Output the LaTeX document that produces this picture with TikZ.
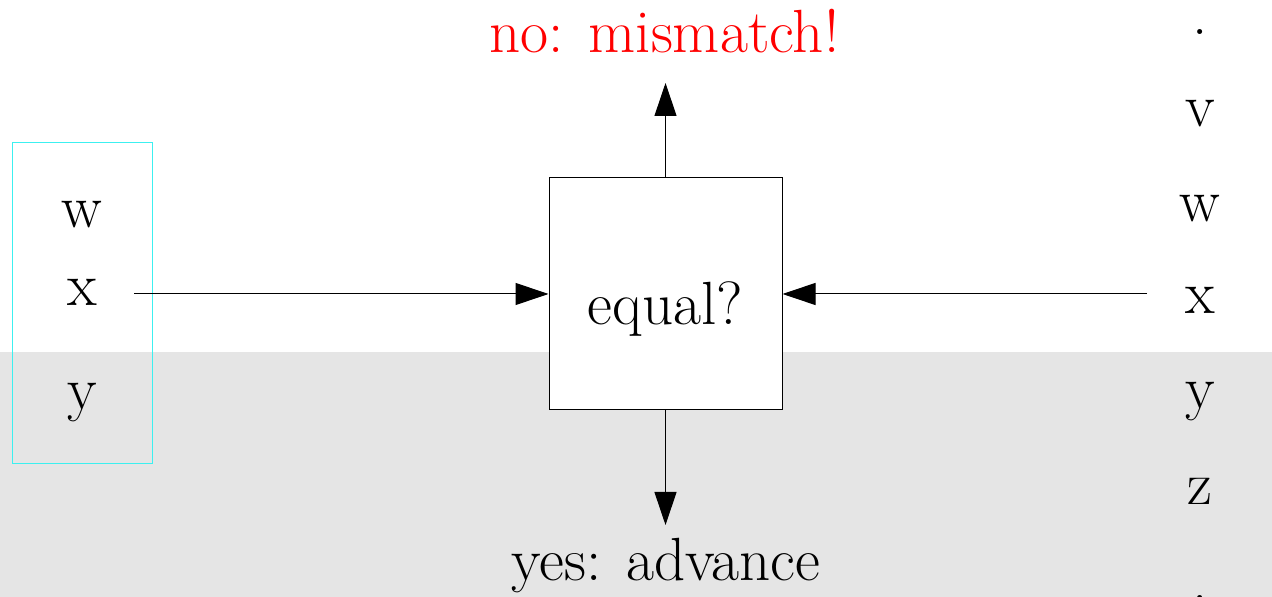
\documentclass[tikz,border=0pt]{standalone}
\usetikzlibrary{arrows.meta}
\definecolor{wincyan}{RGB}{60,240,240}
\definecolor{bandgray}{RGB}{229,229,229}

\begin{document}
\begin{tikzpicture}[
    x=0.5pt, y=-0.5pt,
    letter/.style={anchor=base, inner sep=0pt},
    cmp/.style={draw, line width=0.5pt, minimum width=116.5pt, minimum height=116pt, inner sep=0pt},
    >={Triangle[length=16.5pt, width=11pt]},
    font=\fontsize{30.5}{36}\selectfont
]
    % background
    \useasboundingbox (0,0) rectangle (1272,597);
    \fill[bandgray] (0,352) rectangle (1272,597);

    % left window
    \draw[wincyan, line width=0.5pt] (12,143) rectangle (152,464);
    \node[letter] (Lw) at (82,228) {w};
    \node[letter] (Lx) at (82,306) {x};
    \node[letter] (Ly) at (82,410) {y};
    \coordinate (Lout) at (134,294);

    % right column
    \node[letter] (R0) at (1200,35) {.};
    \node[letter] (Rv) at (1200,127) {v};
    \node[letter] (Rw) at (1200,222) {w};
    \node[letter] (Rx) at (1200,314) {x};
    \node[letter] (Ry) at (1200,409) {y};
    \node[letter] (Rz) at (1200,505) {z};
    \node[letter] (R7) at (1200,600) {.};
    \coordinate (Rout) at (1147,294);

    % compare box
    \node[cmp, fill=white] (EQ) at (665.5,294) {};
    \node[letter] (EQt) at (665.5,325) {equal?};

    % outcomes
    \node[letter, red] (No) at (664.5,53) {no: mismatch!};
    \node[letter] (Yes) at (666,580) {yes: advance};
    \coordinate (Nout) at (665.5,83);
    \coordinate (Yout) at (665.5,525);

    % 1. inputs
    \draw[->, line width=0.5pt] (Lout) -- (EQ.west);
    \draw[->, line width=0.5pt] (Rout) -- (EQ.east);

    % 2. results
    \draw[->, line width=0.5pt] (EQ.north) -- (Nout);
    \draw[->, line width=0.5pt] (EQ.south) -- (Yout);

\end{tikzpicture}
\end{document}
